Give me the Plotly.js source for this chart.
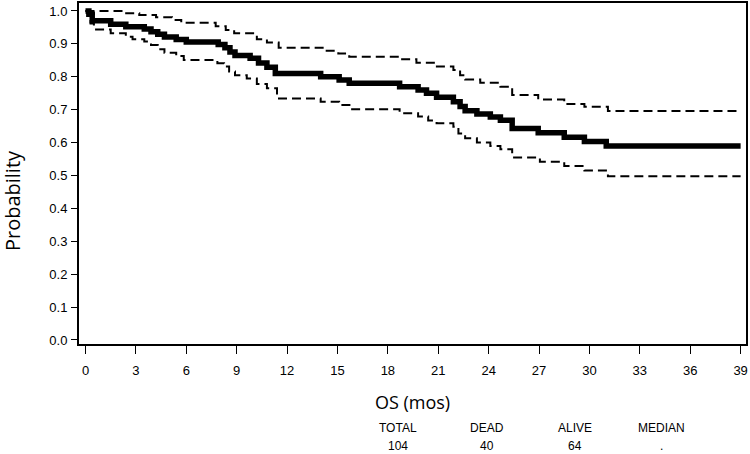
<!DOCTYPE html>
<html>
<head>
<meta charset="utf-8">
<script src="https://cdn.plot.ly/plotly-3.0.1.min.js"></script>
<style>html,body{margin:0;padding:0;background:#fff;}#chart{width:750px;height:454px;}</style>
</head>
<body>
<div id="chart"></div>
<script>
// Kaplan-Meier overall survival estimate (months)
var kmMonths = [0, 0.2, 0.4, 1.5, 2.4, 3.5, 3.9, 4.3, 4.7, 5.4, 6.0, 7.9, 8.3, 8.6, 8.9, 9.8, 10.3, 10.8, 11.3, 14.0, 15.1, 15.7, 18.7, 19.8, 20.3, 20.9, 21.9, 22.3, 22.6, 23.3, 24.1, 24.7, 25.4, 26.95, 28.5, 29.7, 31.0, 39];
var kmSurv   = [1.0, 0.99, 0.97, 0.96, 0.952, 0.945, 0.937, 0.929, 0.921, 0.913, 0.906, 0.898, 0.888, 0.875, 0.865, 0.856, 0.842, 0.829, 0.81, 0.80, 0.79, 0.78, 0.77, 0.76, 0.75, 0.738, 0.724, 0.71, 0.697, 0.687, 0.678, 0.668, 0.643, 0.630, 0.616, 0.603, 0.59, 0.59];

// Upper confidence limit
var upperMonths = [0, 2.3, 3.2, 4.2, 5.15, 5.7, 7.75, 8.35, 8.85, 10.2, 10.8, 11.5, 14.2, 15.05, 15.7, 18.7, 19.7, 20.8, 21.9, 22.3, 22.6, 23.5, 24.7, 25.4, 26.95, 28.5, 29.7, 31.1, 39];
var upperSurv   = [1.0, 0.993, 0.988, 0.981, 0.973, 0.964, 0.954, 0.942, 0.932, 0.914, 0.904, 0.888, 0.879, 0.871, 0.861, 0.853, 0.843, 0.831, 0.821, 0.805, 0.792, 0.782, 0.770, 0.745, 0.731, 0.717, 0.709, 0.696, 0.696];

// Lower confidence limit
var lowerMonths = [0, 0.3, 0.5, 1.5, 2.4, 2.8, 3.5, 3.9, 4.3, 4.7, 5.4, 5.85, 7.85, 8.25, 8.55, 8.9, 9.6, 10.2, 10.8, 11.4, 14.0, 15.1, 15.8, 18.7, 19.8, 20.4, 20.9, 21.9, 22.2, 22.6, 23.3, 24.1, 24.7, 25.4, 27.05, 28.5, 29.7, 31.1, 39];
var lowerSurv   = [1.0, 0.962, 0.944, 0.932, 0.922, 0.914, 0.907, 0.897, 0.884, 0.873, 0.863, 0.851, 0.841, 0.831, 0.816, 0.805, 0.795, 0.778, 0.765, 0.734, 0.724, 0.714, 0.701, 0.689, 0.679, 0.667, 0.659, 0.648, 0.628, 0.613, 0.60, 0.59, 0.58, 0.555, 0.542, 0.529, 0.515, 0.498, 0.498];

var xTicks = [0, 3, 6, 9, 12, 15, 18, 21, 24, 27, 30, 33, 36, 39];
var yTicks = [0, 0.1, 0.2, 0.3, 0.4, 0.5, 0.6, 0.7, 0.8, 0.9, 1.0];

var summaryHeaders = ["TOTAL", "DEAD", "ALIVE", "MEDIAN"];
var summaryValues  = ["104", "40", "64", "."];
var summaryX = [0.479, 0.612, 0.744, 0.874];

var FONT = '"Liberation Sans Narrow", "Liberation Sans", Arial, sans-serif';
var FONT2 = '"Open Sans", "Noto Sans", sans-serif';

var traces = [
  {x: upperMonths, y: upperSurv, mode: 'lines', line: {shape: 'hv', color: '#000', width: 2, dash: '9px,5px'}, hoverinfo: 'skip'},
  {x: lowerMonths, y: lowerSurv, mode: 'lines', line: {shape: 'hv', color: '#000', width: 2, dash: '9px,5px'}, hoverinfo: 'skip'},
  {x: kmMonths, y: kmSurv, mode: 'lines', line: {shape: 'hv', color: '#000', width: 5.5}, hoverinfo: 'skip'}
];

var annotations = [
  {text: 'Probability', xref: 'paper', yref: 'paper', x: -0.1, y: 0.42, showarrow: false, textangle: -90,
   font: {family: FONT2, size: 20, color: '#000'}, xanchor: 'center', yanchor: 'middle'}
];
for (var i = 0; i < summaryHeaders.length; i++) {
  annotations.push({text: summaryHeaders[i], xref: 'paper', yref: 'paper', x: summaryX[i], y: -0.246, showarrow: false,
    font: {family: FONT, size: 12, color: '#000'}, xanchor: 'center', yanchor: 'middle'});
  annotations.push({text: summaryValues[i], xref: 'paper', yref: 'paper', x: summaryX[i], y: -0.299, showarrow: false,
    font: {family: FONT, size: 12, color: '#000'}, xanchor: 'center', yanchor: 'middle'});
}

var layout = {
  width: 750, height: 454,
  margin: {l: 79, r: 4, t: 3, b: 110},
  paper_bgcolor: '#fff', plot_bgcolor: '#fff',
  showlegend: false,
  font: {family: FONT, size: 13, color: '#000'},
  xaxis: {
    range: [-0.387, 39.32], tickvals: xTicks, ticktext: xTicks.map(String),
    showgrid: false, zeroline: false, showline: true, mirror: true, linecolor: '#000', linewidth: 2,
    ticks: 'outside', ticklen: 8, tickwidth: 1, tickcolor: '#000',
    tickfont: {family: FONT, size: 13, color: '#000'}, ticklabelstandoff: 5,
    title: {text: 'OS (mos)', font: {family: FONT2, size: 18, color: '#000'}, standoff: 20},
    automargin: false
  },
  yaxis: {
    range: [-0.0122, 1.0243], tickvals: yTicks, ticktext: yTicks.map(function(v){return v.toFixed(1);}),
    showgrid: false, zeroline: false, showline: true, mirror: true, linecolor: '#000', linewidth: 2,
    ticks: 'outside', ticklen: 6, tickwidth: 1, tickcolor: '#000',
    tickfont: {family: FONT, size: 13, color: '#000'}, ticklabelstandoff: 1,
    automargin: false
  },
  annotations: annotations
};

Plotly.newPlot('chart', traces, layout, {staticPlot: true, displayModeBar: false});
</script>
</body>
</html>
